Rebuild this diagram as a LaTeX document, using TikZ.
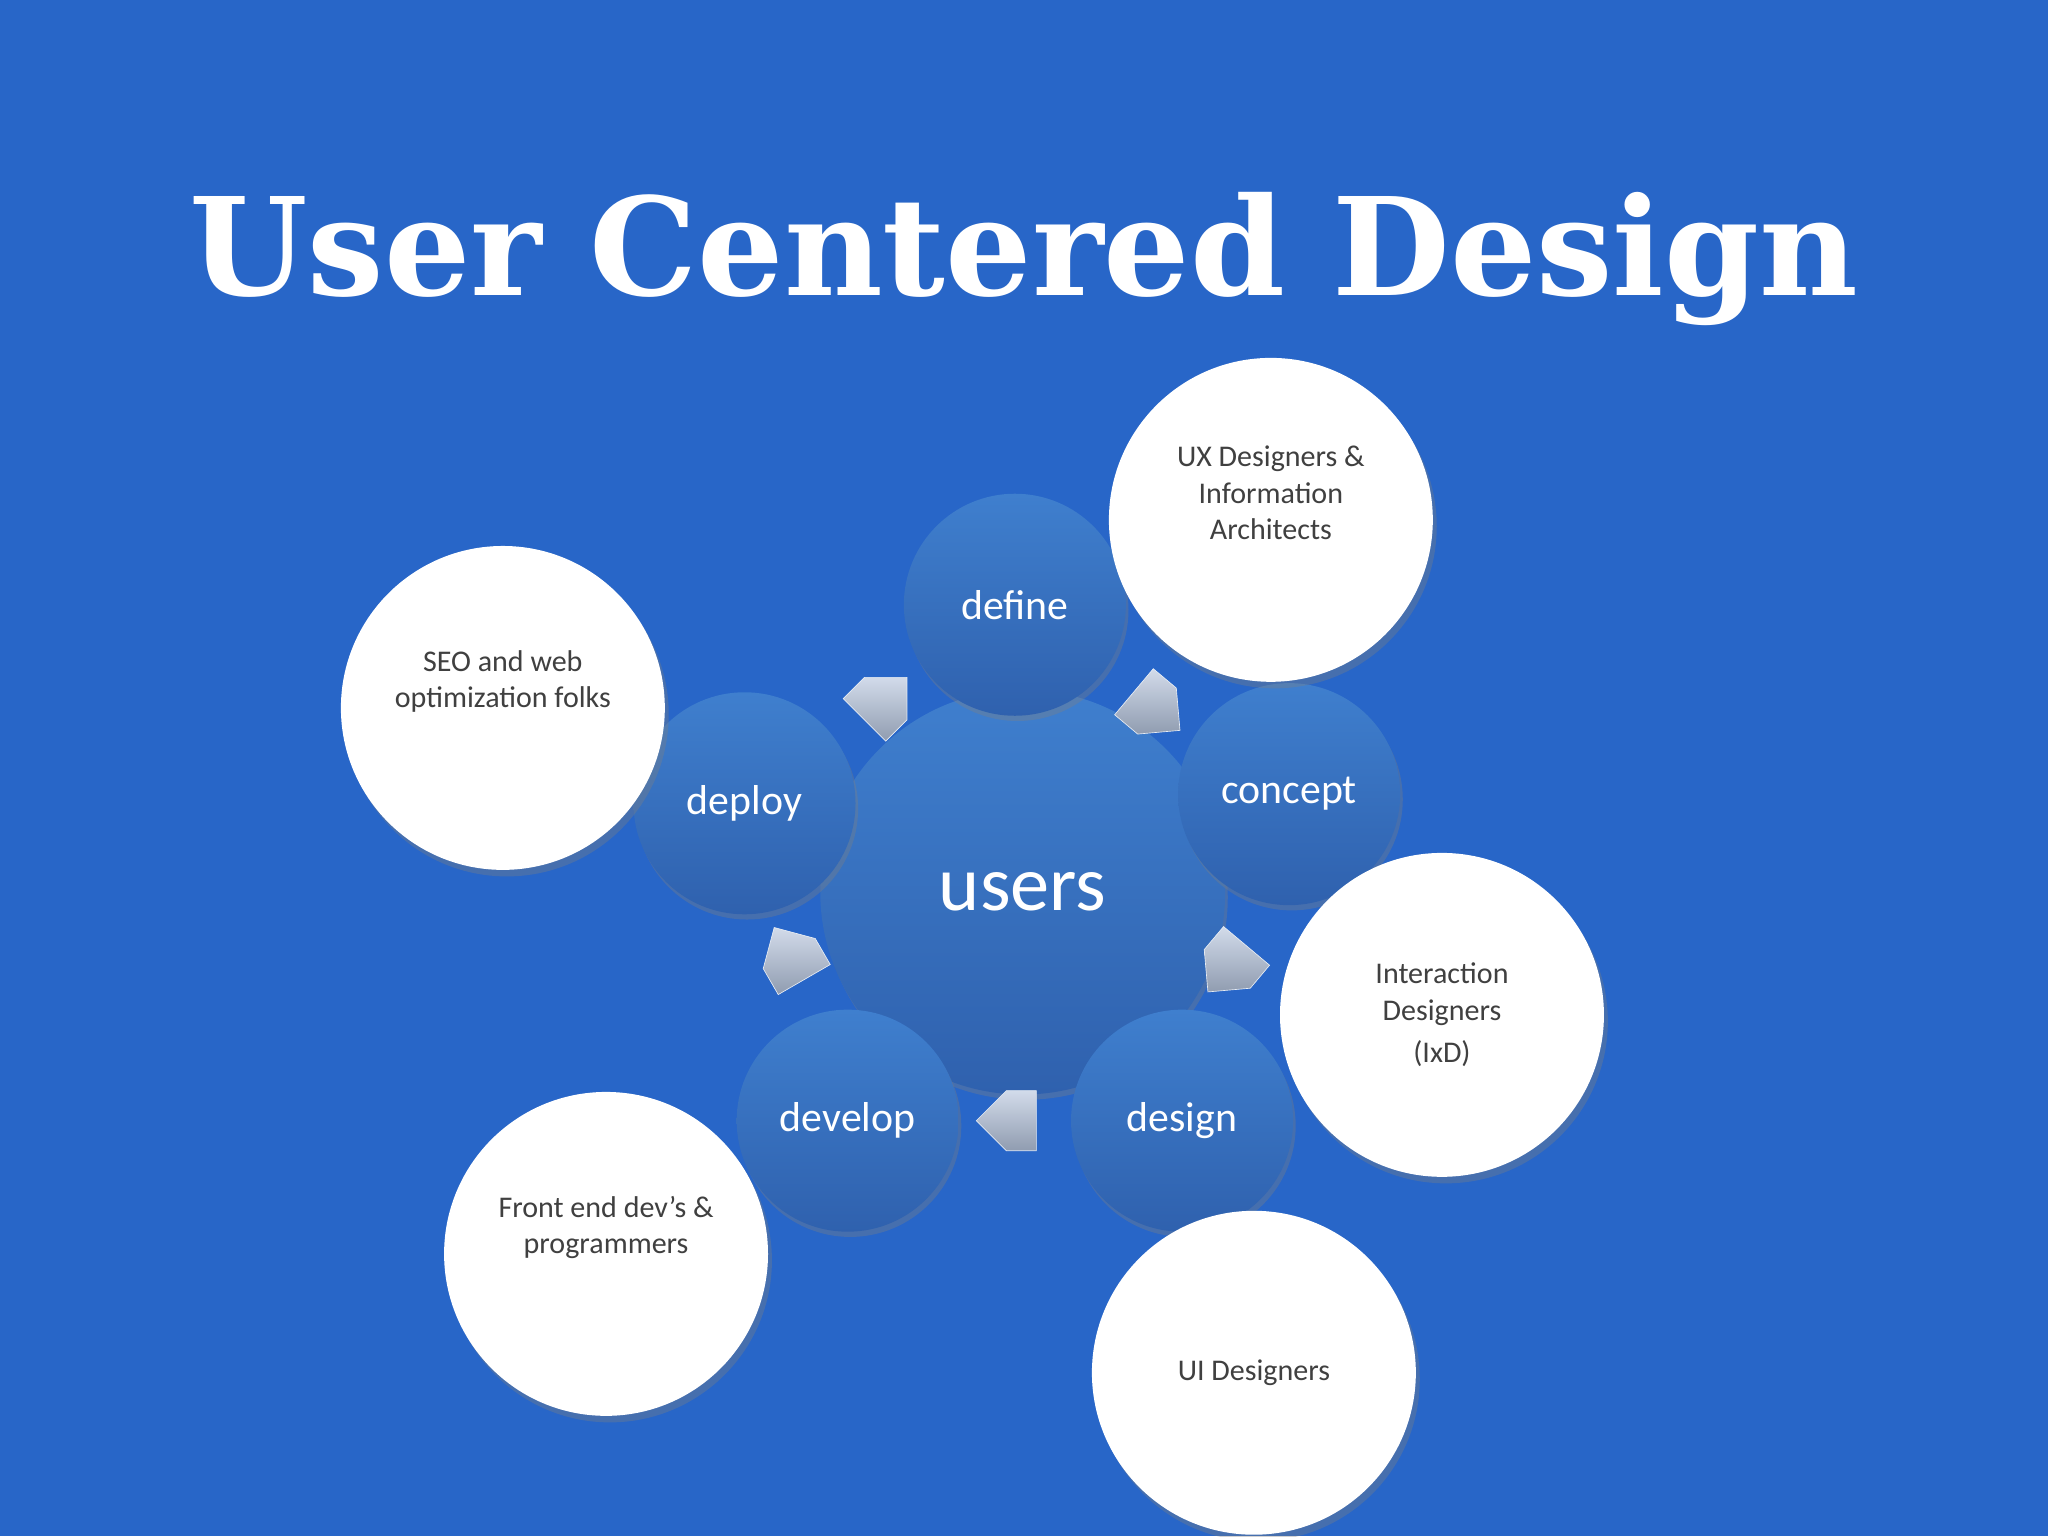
\documentclass[tikz,border=0pt]{standalone}
\usepackage{fontspec}
\setmainfont{Carlito}
\newfontfamily\titlefont{DejaVu Serif}
\usetikzlibrary{shapes.arrows,shadows}
\definecolor{bg}{HTML}{2866C8}
\definecolor{ctop}{HTML}{3F7FCE}
\definecolor{cbot}{HTML}{2F61AE}
\definecolor{txt}{HTML}{404040}
\definecolor{arr}{HTML}{B4C3DC}
\tikzset{x=1pt,y=-1pt,
 bluec/.style={circle,minimum size=#1,top color=ctop,bottom color=cbot,draw=none,text=white,font=\fontsize{32}{32}\selectfont,
   drop shadow={shadow xshift=2pt,shadow yshift=-4pt,opacity=0.35}},
 whitec/.style={circle,minimum size=248pt,fill=white,text=txt,align=center,font=\fontsize{23}{28}\selectfont,
   drop shadow={shadow xshift=3pt,shadow yshift=-5pt,opacity=0.35}},
 blk/.style={single arrow,minimum height=46pt,minimum width=46pt,single arrow head extend=0pt,single arrow tip angle=90,inner sep=4pt,
   top color=arr!60!white,bottom color=arr!80!black,draw=white!70!arr,line width=0.5pt}}
\begin{document}
\begin{tikzpicture}
\fill[bg] (0,0) rectangle (1568,1176);
\useasboundingbox (0,0) rectangle (1568,1176);
\node[font=\titlefont\bfseries\fontsize{104}{104}\selectfont,text=white] (title) at (784,198) {User Centered Design};
\node[bluec=310pt,font=\fontsize{60}{60}\selectfont] (users) at (783,683) {users};
\node[bluec=170pt] (define) at (777,463) {define};
\node[bluec=170pt] (concept) at (987,608) {concept};
\node[bluec=170pt] (design) at (905,858) {design};
\node[bluec=170pt] (develop) at (649,858) {develop};
\node[bluec=170pt] (deploy) at (570,615) {deploy};
\node[whitec] (ux) at (973,398) {UX Designers \&\\Information\\Architects\\[1.2ex]};
\node[whitec] (seo) at (385,542) {SEO and web\\optimization folks\\[1.5ex]};
\node[whitec] (ixd) at (1104,777) {Interaction\\Designers\\[0.4ex](IxD)};
\node[whitec] (fe) at (464,960) {Front end dev’s \&\\programmers\\[1.5ex]};
\node[whitec] (ui) at (960,1051) {UI Designers};
\node[blk,rotate=45] (a1) at (670,543) {};
\node[blk,rotate=-40] (a2) at (877,537) {};
\node[blk,rotate=-130] (a3) at (947,733) {};
\node[blk,rotate=180] (a4) at (782,858) {};
\node[blk,rotate=120] (a5) at (610,740) {};
\end{tikzpicture}
\end{document}
